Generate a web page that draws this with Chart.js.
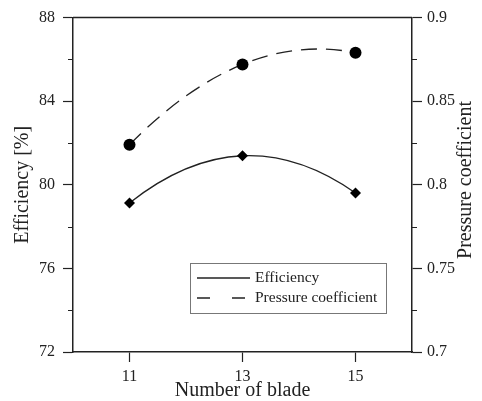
<!DOCTYPE html>
<html>
<head>
<meta charset="utf-8">
<script src="https://cdn.jsdelivr.net/npm/chart.js@4"></script>
<style>
  html, body { margin: 0; padding: 0; background: #fff; }
  #wrap { width: 482px; height: 401px; }
</style>
</head>
<body>
<div id="wrap"><canvas id="bladeChart" width="482" height="401"></canvas></div>
<script>
// valores
const bladeCounts = [11, 13, 15];
const efficiency = [79.13, 81.39, 79.61];
const pressureCoef = [0.824, 0.872, 0.879];
const xTickValues = [11, 13, 15];
const leftMinorTicks = [74, 78, 82, 86];
const rightMinorTicks = [0.725, 0.775, 0.825, 0.875];

const serif = "'Liberation Serif', 'Times New Roman', serif";
const ink = '#222';

// derivada do polinômio que passa pelos pontos (curva "fit" como no original)
function polySlope(xs, ys, x) {
    let s = 0;
    for (let j = 0; j < xs.length; j++) {
        let dj = 0;
        for (let k = 0; k < xs.length; k++) {
            if (k === j) continue;
            let term = 1 / (xs[j] - xs[k]);
            for (let m = 0; m < xs.length; m++) {
                if (m === j || m === k) continue;
                term *= (x - xs[m]) / (xs[j] - xs[m]);
            }
            dj += term;
        }
        s += ys[j] * dj;
    }
    return s;
}

// ajusta os pontos de controle das curvas de Bézier para seguir o polinômio
const fitCurvePlugin = {
    id: 'fitCurve',
    beforeDatasetDraw: function(chart, args) {
        const meta = args.meta;
        const line = meta.dataset;
        if (!line) return;
        line.updateControlPoints(chart.chartArea, 'x');
        const pts = meta.data;
        const xs = pts.map(function(p) { return p.x; });
        const ys = pts.map(function(p) { return p.y; });
        pts.forEach(function(p, i) {
            const slope = polySlope(xs, ys, p.x);
            const hPrev = i > 0 ? (p.x - pts[i - 1].x) / 3 : 0;
            const hNext = i < pts.length - 1 ? (pts[i + 1].x - p.x) / 3 : 0;
            p.cp1x = p.x - hPrev;
            p.cp1y = p.y - slope * hPrev;
            p.cp2x = p.x + hNext;
            p.cp2y = p.y + slope * hNext;
        });
    }
};

// moldura superior, ticks menores, título da direita e legenda interna
const framePlugin = {
    id: 'framePlugin',
    afterDraw: function(chart) {
        const ctx = chart.ctx;
        const area = chart.chartArea;
        const yL = chart.scales.y;
        const yR = chart.scales.y1;

        ctx.save();
        ctx.strokeStyle = ink;
        ctx.lineWidth = 1.5;
        ctx.beginPath();
        ctx.moveTo(area.left, area.top);
        ctx.lineTo(area.right, area.top);
        ctx.stroke();

        ctx.lineWidth = 1.2;
        ctx.beginPath();
        leftMinorTicks.forEach(function(v) {
            const py = Math.round(yL.getPixelForValue(v)) + 0.5;
            ctx.moveTo(area.left - 5, py);
            ctx.lineTo(area.left, py);
        });
        rightMinorTicks.forEach(function(v) {
            const py = Math.round(yR.getPixelForValue(v)) + 0.5;
            ctx.moveTo(area.right, py);
            ctx.lineTo(area.right + 5, py);
        });
        ctx.stroke();

        // título do eixo direito (lido de baixo para cima)
        ctx.fillStyle = ink;
        ctx.font = '20px ' + serif;
        ctx.textAlign = 'center';
        ctx.textBaseline = 'middle';
        ctx.translate(466, 180);
        ctx.rotate(-Math.PI / 2);
        ctx.fillText('Pressure coefficient', 0, 0);
        ctx.restore();

        // legenda
        ctx.save();
        ctx.strokeStyle = '#777';
        ctx.lineWidth = 1;
        ctx.strokeRect(190.5, 263.5, 196, 50);
        ctx.strokeStyle = ink;
        ctx.lineWidth = 1.3;
        ctx.beginPath();
        ctx.moveTo(197, 278);
        ctx.lineTo(250, 278);
        ctx.stroke();
        ctx.setLineDash([13, 22]);
        ctx.beginPath();
        ctx.moveTo(197, 298);
        ctx.lineTo(250, 298);
        ctx.stroke();
        ctx.setLineDash([]);
        ctx.fillStyle = ink;
        ctx.font = '15.5px ' + serif;
        ctx.textAlign = 'left';
        ctx.textBaseline = 'middle';
        ctx.fillText(chart.data.datasets[0].label, 255, 278);
        ctx.fillText(chart.data.datasets[1].label, 255, 298);
        ctx.restore();
    }
};

function toPoints(values) {
    return bladeCounts.map(function(x, i) { return { x: x, y: values[i] }; });
}

document.addEventListener('DOMContentLoaded', function() {
    const ctx = document.getElementById('bladeChart').getContext('2d');

    new Chart(ctx, {
        type: 'line',
        data: {
            datasets: [{
                label: 'Efficiency',
                data: toPoints(efficiency),
                yAxisID: 'y',
                borderColor: ink,
                backgroundColor: '#000',
                borderWidth: 1.3,
                tension: 0.4,
                pointStyle: 'rectRot',
                pointRadius: 5.5,
                pointBorderWidth: 0,
            }, {
                label: 'Pressure coefficient',
                data: toPoints(pressureCoef),
                yAxisID: 'y1',
                borderColor: ink,
                backgroundColor: '#000',
                borderWidth: 1.3,
                borderDash: [16, 9],
                tension: 0.4,
                pointStyle: 'circle',
                pointRadius: 6,
                pointBorderWidth: 0,
            }]
        },
        options: {
            responsive: false,
            animation: false,
            layout: { padding: { top: 15, left: 0, right: 0, bottom: 0 } },
            plugins: {
                legend: { display: false },
                tooltip: { enabled: false }
            },
            scales: {
                x: {
                    type: 'linear',
                    min: 10,
                    max: 16,
                    afterBuildTicks: function(scale) {
                        scale.ticks = xTickValues.map(function(v) { return { value: v }; });
                    },
                    afterFit: function(scale) { scale.height = 49; },
                    grid: { drawOnChartArea: false, tickLength: 10, tickColor: ink, tickWidth: 1.2 },
                    border: { color: ink, width: 1.5 },
                    ticks: { color: ink, padding: 5, font: { family: serif, size: 16 } },
                    title: {
                        display: true,
                        text: 'Number of blade',
                        color: ink,
                        padding: 0,
                        font: { family: serif, size: 20, lineHeight: 1 }
                    }
                },
                y: {
                    position: 'left',
                    min: 72,
                    max: 88,
                    afterFit: function(scale) { scale.width = 73; },
                    grid: { drawOnChartArea: false, tickLength: 10, tickColor: ink, tickWidth: 1.2 },
                    border: { color: ink, width: 1.5 },
                    ticks: { stepSize: 4, color: ink, padding: 8, font: { family: serif, size: 16 } },
                    title: {
                        display: true,
                        text: 'Efficiency [%]',
                        color: ink,
                        padding: { top: 11, bottom: 0 },
                        font: { family: serif, size: 20, lineHeight: 1.2 }
                    }
                },
                y1: {
                    position: 'right',
                    min: 0.7,
                    max: 0.9,
                    afterFit: function(scale) { scale.width = 70; },
                    grid: { drawOnChartArea: false, tickLength: 10, tickColor: ink, tickWidth: 1.2 },
                    border: { color: ink, width: 1.5 },
                    ticks: {
                        stepSize: 0.05,
                        color: ink,
                        padding: 5,
                        font: { family: serif, size: 16 },
                        callback: function(v) { return String(+v.toFixed(2)); }
                    }
                }
            }
        },
        plugins: [fitCurvePlugin, framePlugin]
    });
});
</script>
</body>
</html>
